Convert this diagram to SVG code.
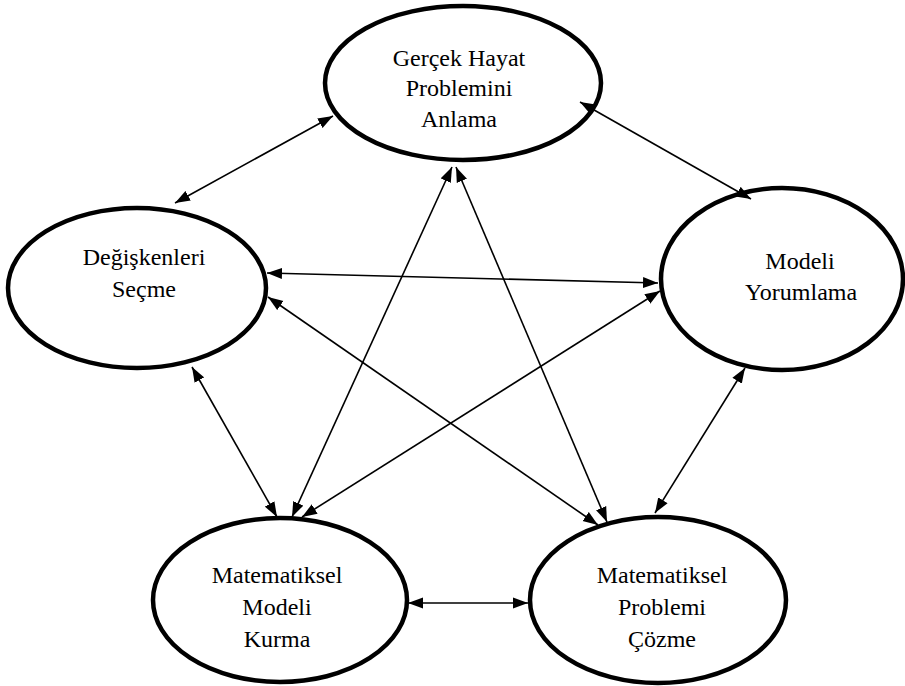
<svg xmlns="http://www.w3.org/2000/svg" width="905" height="686" viewBox="0 0 905 686">
<style>
.n{fill:#fff;stroke:#000;stroke-width:4.5}
.t{font-family:"Liberation Serif","Times New Roman",serif;font-size:24px;fill:#000;text-anchor:middle}
.c line{stroke:#000;stroke-width:1.6;marker-start:url(#ah);marker-end:url(#ah)}
</style>
<defs>
<marker id="ah" markerUnits="userSpaceOnUse" markerWidth="16" markerHeight="12" refX="15" refY="5.5" orient="auto-start-reverse" viewBox="0 0 16 11">
<path d="M0,0 L15,5.5 L0,11 z" fill="#000"/>
</marker>
</defs>
<rect width="905" height="686" fill="#fff"/>
<g id="n1"><ellipse class="n" cx="463" cy="83" rx="138" ry="77"/>
<text class="t" x="459" y="66">Gerçek Hayat</text><text class="t" x="459" y="96">Problemini</text><text class="t" x="459" y="127">Anlama</text></g>
<g id="n2"><ellipse class="n" cx="137" cy="288" rx="129" ry="80"/>
<text class="t" x="144" y="265">Değişkenleri</text><text class="t" x="144" y="297">Seçme</text></g>
<g id="n3"><ellipse class="n" cx="782" cy="279" rx="121" ry="91"/>
<text class="t" x="800" y="269">Modeli</text><text class="t" x="801" y="300">Yorumlama</text></g>
<g id="n4"><ellipse class="n" cx="280" cy="600" rx="127" ry="82"/>
<text class="t" x="277" y="583">Matematiksel</text><text class="t" x="277" y="615">Modeli</text><text class="t" x="277" y="647">Kurma</text></g>
<g id="n5"><ellipse class="n" cx="658" cy="600" rx="128" ry="83"/>
<text class="t" x="662" y="583">Matematiksel</text><text class="t" x="662" y="615">Problemi</text><text class="t" x="662" y="647">Çözme</text></g>
<g id="connectors" class="c">
<line x1="333" y1="116" x2="175" y2="203"/>
<line x1="580" y1="102" x2="751" y2="199"/>
<line x1="267" y1="273" x2="658" y2="283"/>
<line x1="268" y1="297" x2="598" y2="525"/>
<line x1="192" y1="367" x2="277" y2="517"/>
<line x1="452" y1="167" x2="292" y2="517"/>
<line x1="456" y1="167" x2="607" y2="522"/>
<line x1="660" y1="291" x2="302" y2="517"/>
<line x1="745" y1="368" x2="655" y2="513"/>
<line x1="408" y1="603" x2="528" y2="603"/>
</g>
</svg>
